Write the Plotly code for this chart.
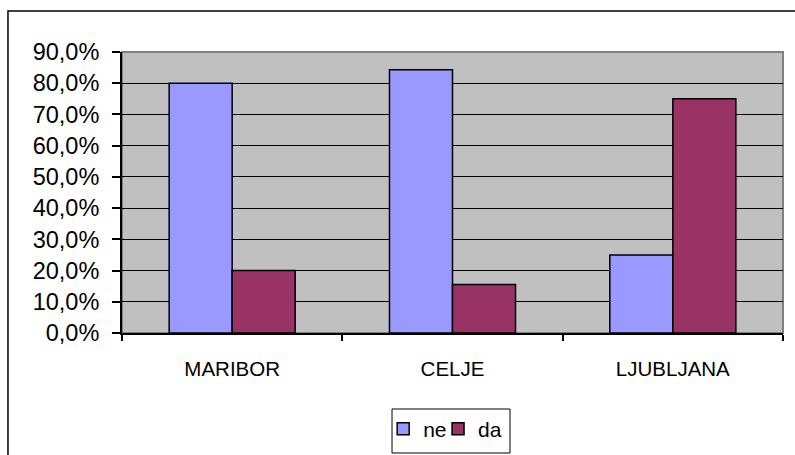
import plotly.graph_objects as go

cities = ["MARIBOR", "CELJE", "LJUBLJANA"]
ne_values = [0.80, 0.843, 0.25]
da_values = [0.20, 0.155, 0.75]
series_names = ["ne", "da"]

FONT = "Liberation Sans, Arial, sans-serif"

fig = go.Figure()
fig.add_trace(go.Bar(x=cities, y=ne_values, name=series_names[0], legend="legend",
                     marker=dict(color="#9999FF", line=dict(color="#000000", width=1.5))))
fig.add_trace(go.Bar(x=cities, y=da_values, name=series_names[1], legend="legend2",
                     marker=dict(color="#993366", line=dict(color="#000000", width=1.5))))

# outer chart border (right/bottom edges fall outside the picture)
fig.add_shape(type="rect", xref="paper", yref="paper", x0=-0.1725, x1=1.2, y0=-0.8, y1=1.146,
              line=dict(color="#000000", width=1.5), fillcolor="rgba(0,0,0,0)", layer="below")
# plot area frame
fig.add_shape(type="rect", xref="paper", yref="paper", x0=0, x1=1, y0=0, y1=1,
              line=dict(color="#808080", width=2), fillcolor="rgba(0,0,0,0)", layer="below")
# legend frame (drawn as a shape so its size matches the original box)
fig.add_shape(type="rect", xref="paper", yref="paper", x0=0.4085, x1=0.587, y0=-0.427, y1=-0.2705,
              line=dict(color="#000000", width=1), fillcolor="#FFFFFF", layer="below")

legend_style = dict(orientation="h", xref="container", yref="container", xanchor="left",
                    y=0.057, yanchor="middle", borderwidth=0, bgcolor="rgba(0,0,0,0)",
                    font=dict(size=21), itemwidth=30)

fig.update_layout(
    width=795, height=455,
    margin=dict(l=122, r=12, t=52, b=122),
    paper_bgcolor="#FFFFFF", plot_bgcolor="#C0C0C0",
    separators=",.",
    barmode="group", bargap=0.428, bargroupgap=0,
    font=dict(family=FONT, color="#000000", size=20),
    showlegend=True,
    legend=dict(legend_style, x=0.482),
    legend2=dict(legend_style, x=0.551),
    xaxis=dict(showline=True, linecolor="#000000", linewidth=2, ticks="outside",
               tickson="boundaries", ticklen=6, tickcolor="#000000", tickwidth=1.5,
               tickfont=dict(size=20.5), ticklabelstandoff=16, showgrid=False, automargin=False),
    yaxis=dict(range=[0, 0.9], dtick=0.1, tickformat=".1%", showline=True, linecolor="#000000",
               linewidth=2, ticks="outside", ticklen=8, tickcolor="#000000", tickwidth=1.5,
               tickfont=dict(size=23.5), ticklabelstandoff=8, showgrid=True, gridcolor="#000000",
               gridwidth=1, zeroline=False, automargin=False),
)

# drop the browser's default body margin so the figure sits at the page origin
fig.write_html("out.html", config={"displayModeBar": False},
               post_script="document.body.style.margin='0';")
